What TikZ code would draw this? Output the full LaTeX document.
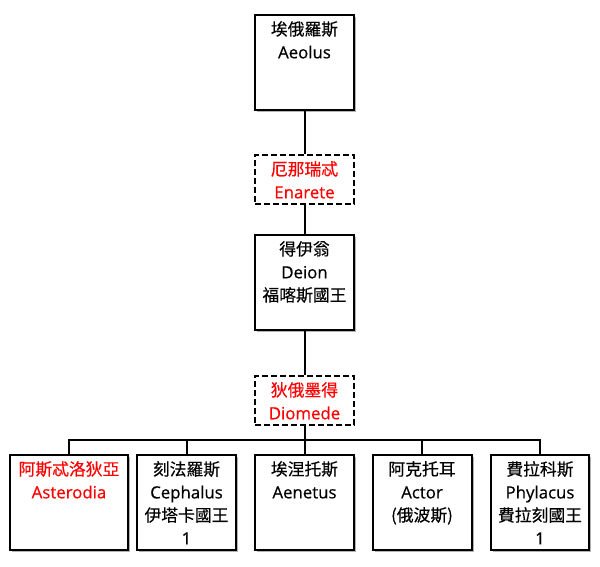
\documentclass[tikz,border=0pt]{standalone}
\usepackage{fontspec}
\usetikzlibrary{shadows}
\setmainfont{Open Sans}[FakeBold=0.5]
\newfontfamily\cjk{Noto Sans CJK TC}[FakeBold=0.3]
\begin{document}
\begin{tikzpicture}[x=1pt,y=-1pt,
  plainbox/.style={draw=black, line width=2pt, minimum width=99pt, minimum height=95pt, inner sep=0pt, fill=white},
  box/.style={plainbox, drop shadow={shadow xshift=2pt, shadow yshift=-2pt, fill=black!30, opacity=1}},
  spousebox/.style={plainbox, dash pattern=on 6pt off 3pt, minimum height=49pt},
  txt/.style={anchor=north, align=center, inner sep=0pt, font=\fontsize{16.8}{23}\selectfont, yshift=-7pt},
  redtxt/.style={txt, text=red},
  conn/.style={draw=black, line width=2pt}]
\useasboundingbox (0,0) rectangle (600,567);
% boxes
\node[box] (aeolus) at (304.5,62.5) {};
\node[spousebox] (enarete) at (304.5,179.5) {};
\node[box] (deion) at (304.5,282.5) {};
\node[spousebox] (diomede) at (304.5,400.5) {};
\node[box, minimum width=118pt] (asterodia) at (69,502.5) {};
\node[box] (cephalus) at (186.5,502.5) {};
\node[box] (aenetus) at (304.5,502.5) {};
\node[box] (actor) at (422,502.5) {};
\node[box, minimum width=98pt] (phylacus) at (540,502.5) {};
\coordinate (bar) at (304.5,440);
% connectors
\draw[conn] (aeolus) -- (enarete);
\draw[conn] (enarete) -- (deion);
\draw[conn] (deion) -- (diomede);
\draw[conn] (diomede) -- (bar);
\draw[conn] (bar) -| (asterodia.north);
\draw[conn] (bar) -| (cephalus.north);
\draw[conn] (bar) -- (aenetus.north);
\draw[conn] (bar) -| (actor.north);
\draw[conn] (bar) -| (phylacus.north);
% texts
\node[txt] (t-aeolus) at (aeolus.north) {{\cjk 埃俄羅斯}\\Aeolus};
\node[redtxt] (t-enarete) at (enarete.north) {{\cjk 厄那瑞忒}\\Enarete};
\node[txt] (t-deion) at (deion.north) {{\cjk 得伊翁}\\Deion\\{\cjk 福喀斯國王}};
\node[redtxt] (t-diomede) at (diomede.north) {{\cjk 狄俄墨得}\\Diomede};
\node[redtxt] (t-asterodia) at (asterodia.north) {{\cjk 阿斯忒洛狄亞}\\Asterodia};
\node[txt] (t-cephalus) at (cephalus.north) {{\cjk 刻法羅斯}\\Cephalus\\{\cjk 伊塔卡國王}\\1};
\node[txt] (t-aenetus) at (aenetus.north) {{\cjk 埃涅托斯}\\Aenetus};
\node[txt] (t-actor) at (actor.north) {{\cjk 阿克托耳}\\Actor\\{\cjk (俄波斯)}};
\node[txt] (t-phylacus) at (phylacus.north) {{\cjk 費拉科斯}\\Phylacus\\{\cjk 費拉刻國王}\\1};
\end{tikzpicture}
\end{document}
